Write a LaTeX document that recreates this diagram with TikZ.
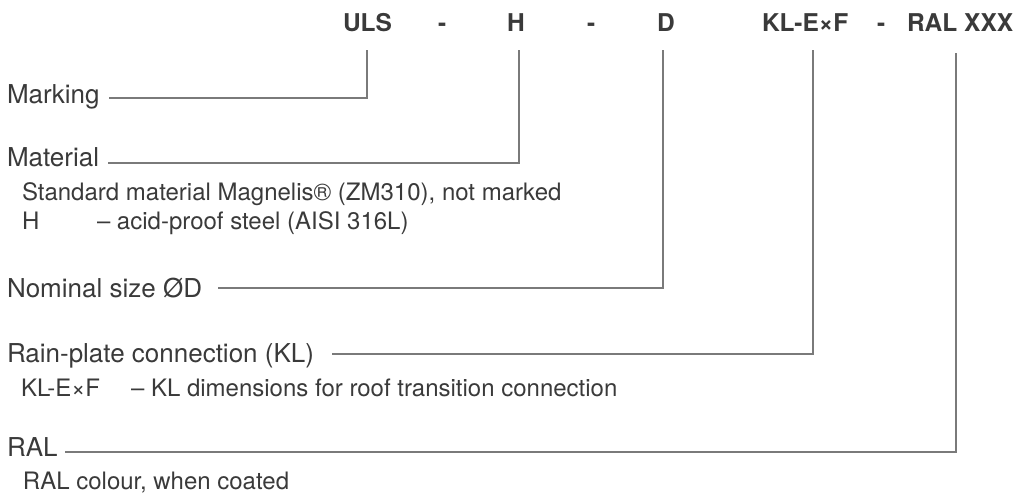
\documentclass[tikz,border=0pt]{standalone}
\usepackage{fontspec}
\setmainfont{TeX Gyre Heros}
\begin{document}
\begin{tikzpicture}[x=1pt,y=-1pt,
  every node/.style={inner sep=0pt, outer sep=0pt, anchor=base west, text=txt},
  head/.style={font=\fontsize{24.5}{28}\selectfont\bfseries},
  mainlab/.style={font=\fontsize{26}{30}\selectfont},
  sublab/.style={font=\fontsize{24}{28}\selectfont},
  conn/.style={draw=lin, line width=1.8pt}]
\definecolor{txt}{HTML}{3A3A3A}
\definecolor{lin}{HTML}{7A7A7A}
\useasboundingbox (0,0) rectangle (1019,494);
% header
\node[head] (uls) at (343,32) {ULS};
\node[head] (d1) at (438,32) {-};
\node[head] (hh) at (507,32) {H};
\node[head] (d2) at (587,32) {-};
\node[head] (dd) at (657,32) {D};
\node[head] (kl) at (762,32) {KL-E×F};
\node[head] (d3) at (877,32) {-};
\node[head] (ral) at (907,32) {RAL XXX};
% labels
\node[mainlab] (mk) at (7,104) {Marking};
\node[mainlab] (mat) at (7,167) {Material};
\node[sublab] (mat1) at (22,201) {Standard material Magnelis® (ZM310), not marked};
\node[sublab] (mat2a) at (22,230) {H};
\node[sublab] (mat2b) at (97,230) {– acid-proof steel (AISI 316L)};
\node[mainlab] (nom) at (7,297) {Nominal size ØD};
\node[mainlab] (rain) at (7,362) {Rain-plate connection (KL)};
\node[sublab] (rain1a) at (21,396) {KL-E×F};
\node[sublab] (rain1b) at (131,396) {–};
\node[sublab] (rain1c) at (151,396) {KL dimensions for roof transition connection};
\node[mainlab] (rl) at (7,456) {RAL};
\node[sublab] (rl1) at (23,489) {RAL colour, when coated};
% connector endpoints
\coordinate (mkS) at (109,98);
\coordinate (ulsT) at (367,50);
\coordinate (matS) at (108,163);
\coordinate (hhT) at (519,50);
\coordinate (nomS) at (218,288);
\coordinate (ddT) at (663,50);
\coordinate (rainS) at (332,354);
\coordinate (klT) at (813,50);
\coordinate (rlS) at (65,452);
\coordinate (ralT) at (956,53);
\draw[conn] (mkS) -| (ulsT);
\draw[conn] (matS) -| (hhT);
\draw[conn] (nomS) -| (ddT);
\draw[conn] (rainS) -| (klT);
\draw[conn] (rlS) -| (ralT);
\end{tikzpicture}
\end{document}
